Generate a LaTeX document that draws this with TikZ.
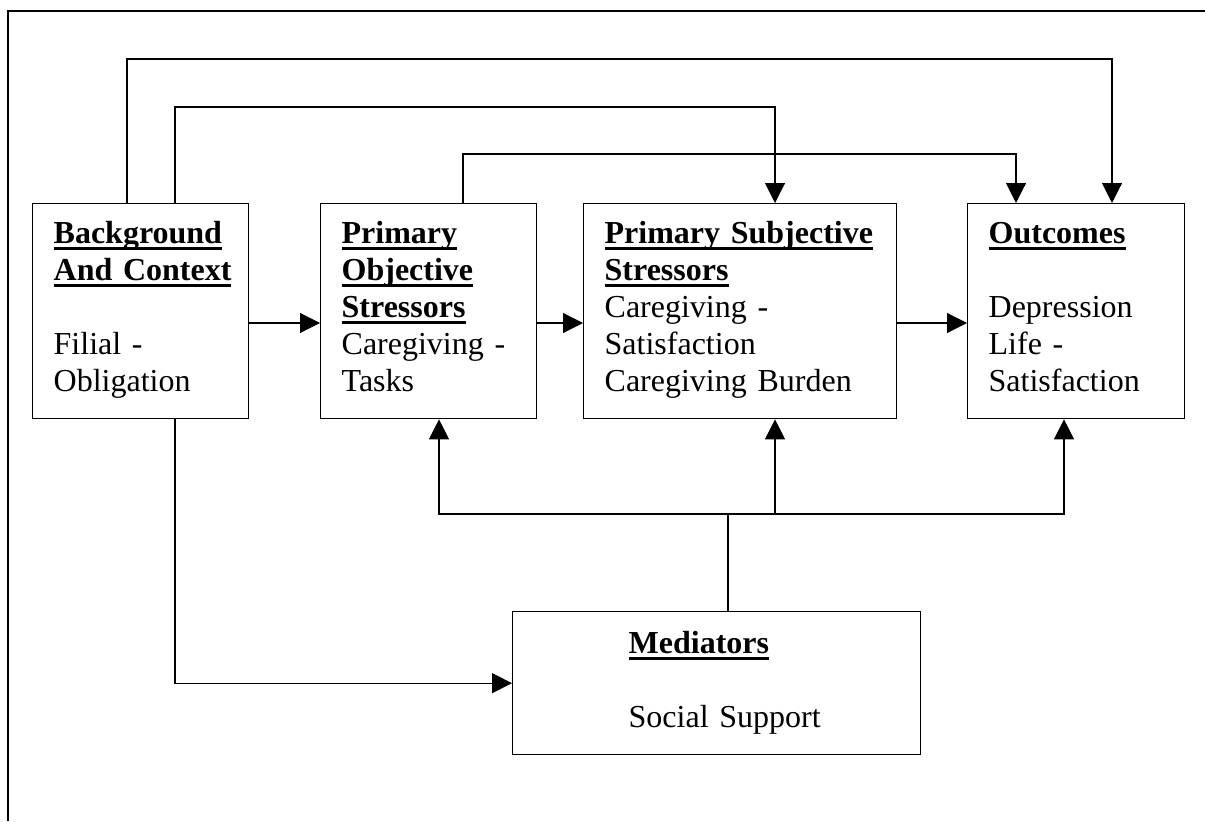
\documentclass[tikz,border=0pt]{standalone}
\usepackage{fontspec}
\setmainfont{Liberation Serif}
\usetikzlibrary{arrows.meta}
\newsavebox{\headbox}
\newcommand{\boxfont}{\fontsize{24}{27.75}\selectfont}
\newcommand{\head}[1]{\leavevmode\sbox{\headbox}{\textbf{#1}}%
  \rlap{\rule[-4.9pt]{\wd\headbox}{2.25pt}}\usebox{\headbox}}
\begin{document}
\begin{tikzpicture}[x=0.75pt, y=-0.75pt,
    box/.style={draw, line width=1pt, anchor=north west, align=left,
      inner xsep=15.75pt, inner ysep=0pt, text height=30pt, text depth=131.25pt,
      font=\boxfont},
    link/.style={line width=0.8pt},
    >={Triangle[length=15pt,width=15pt]}]
  \useasboundingbox (0,0) rectangle (1205,821);
  \draw[line width=1pt] (1205,11) -- (8,11) -- (8,821);

  \node[box, text width=130.5pt] (bg) at (32,203)
    {\head{Background}\\\head{And Context}\\[27.75pt]Filial -\\Obligation};
  \node[box, text width=130.5pt] (po) at (320,203)
    {\head{Primary}\\\head{Objective}\\\head{Stressors}\\Caregiving -\\Tasks};
  \node[box, text width=203.25pt] (ps) at (583,203)
    {\head{Primary Subjective}\\\head{Stressors}\\Caregiving -\\Satisfaction\\Caregiving Burden};
  \node[box, text width=131.25pt] (oc) at (967,203)
    {\head{Outcomes}\\[27.75pt]Depression\\Life -\\Satisfaction};
  \node[box, minimum width=306pt, text width=132pt, inner xsep=0pt,
    text height=31.5pt, text depth=75.75pt] (med) at (512,611)
    {\head{Mediators}\\[27.75pt]\mbox{Social Support}};

  \coordinate (h) at (0,323);
  \draw[link,->] (bg.east |- h) -- (po.west |- h);
  \draw[link,->] (po.east |- h) -- (ps.west |- h);
  \draw[link,->] (ps.east |- h) -- (oc.west |- h);

  \coordinate (b1) at (127,59);
  \coordinate (a1) at (1112,59);
  \coordinate (b2) at (175,107);
  \coordinate (a2) at (775,107);
  \coordinate (b3) at (463,154);
  \coordinate (a3) at (1016,154);
  \draw[link,->] (bg.north -| b1) -- (b1) -- (a1) -- (a1 |- oc.north);
  \draw[link,->] (bg.north -| b2) -- (b2) -- (a2) -- (a2 |- ps.north);
  \draw[link,->] (po.north -| b3) -- (b3) -- (a3) -- (a3 |- oc.north);

  \coordinate (j) at (728,514);
  \coordinate (c1) at (439,514);
  \coordinate (c2) at (775,514);
  \coordinate (c3) at (1064,514);
  \draw[link,->] (bg.south -| b2) |- (med.west);
  \draw[link] (med.north -| j) -- (j);
  \draw[link,->] (j) -- (c1) -- (c1 |- po.south);
  \draw[link,->] (j) -- (c2) -- (c2 |- ps.south);
  \draw[link,->] (j) -- (c3) -- (c3 |- oc.south);
\end{tikzpicture}
\end{document}
